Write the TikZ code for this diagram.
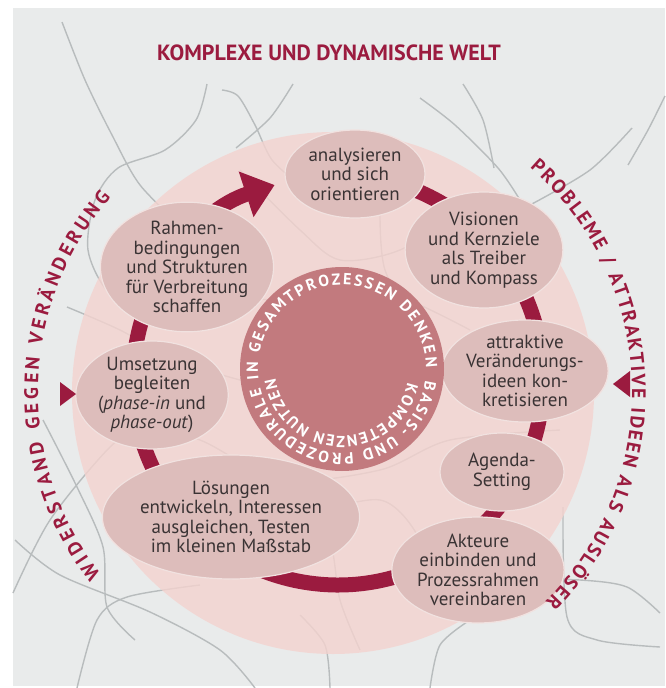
\documentclass[tikz,border=0pt]{standalone}
\usepackage{fontspec}
\setmainfont{PT Sans}
\usetikzlibrary{arrows.meta}
\usetikzlibrary{shapes.geometric}
\usetikzlibrary{decorations.text}
\definecolor{Weinrot}{HTML}{9B1B3F}
\definecolor{Grund}{HTML}{E9EBEB}
\definecolor{Kreis}{HTML}{F4D3CF}
\definecolor{Knoten}{HTML}{DDBDBB}
\definecolor{KnotenRand}{HTML}{F1E2E0}
\definecolor{Kern}{HTML}{C27A7E}
\definecolor{Faden}{HTML}{B8BCBD}
\definecolor{Schrift}{HTML}{3A3334}
\pgfdeclarelayer{bglayer}
\pgfdeclarelayer{edgelayer}
\pgfdeclarelayer{nodelayer}
\pgfsetlayers{bglayer,edgelayer,nodelayer,main}
\tikzstyle{none}=[inner sep=0pt]
\tikzstyle{stage}=[ellipse,fill=Knoten,draw=KnotenRand,line width=1.2pt,inner sep=0pt,align=center,text=Schrift,font=\fontsize{19}{19.5}\selectfont]
\tikzstyle{kern}=[circle,fill=Kern,minimum size=204pt,inner sep=0pt]
\tikzstyle{faden}=[-,draw=Faden,line width=1.4pt]
\tikzstyle{ring}=[-{Triangle[width=46pt,length=30pt]},draw=Weinrot,line width=15pt]
\tikzstyle{bogen}=[decorate]
\tikzstyle{marke}=[fill=Weinrot]

\begin{document}
\begin{tikzpicture}[x=1pt,y=1pt]
	\useasboundingbox (0,0) rectangle (665,-688);
	\begin{pgfonlayer}{bglayer}
		\fill [white] (0,0) rectangle (665,-688);
		\fill [Grund] (13,-8) rectangle (665,-686);
		% Faeden im Hintergrund
		\draw [style=faden] plot [smooth] coordinates {(62,-22) (85,-80) (112,-135) (140,-185) (185,-230)};
		\draw [style=faden] plot [smooth] coordinates {(207,-84) (196,-120) (165,-150) (118,-168) (95,-200) (88,-250) (108,-292) (150,-320) (230,-300) (300,-300) (380,-290) (470,-330)};
		\draw [style=faden] plot [smooth] coordinates {(222,-90) (238,-96) (255,-125) (272,-160) (300,-185)};
		\draw [style=faden] plot [smooth] coordinates {(293,-84) (270,-118) (236,-148)};
		\draw [style=faden] plot [smooth] coordinates {(298,-152) (318,-150) (340,-166)};
		\draw [style=faden] plot [smooth] coordinates {(420,-98) (455,-125) (498,-168) (520,-200)};
		\draw [style=faden] plot [smooth] coordinates {(463,-84) (483,-120) (494,-168)};
		\draw [style=faden] plot [smooth] coordinates {(665,-96) (648,-130) (628,-165)};
		\draw [style=faden] plot [smooth] coordinates {(632,-128) (590,-170) (530,-205)};
		\draw [style=faden] plot [smooth] coordinates {(67,-307) (120,-330) (175,-360) (240,-380)};
		\draw [style=faden] plot [smooth] coordinates {(13,-593) (50,-520) (110,-447) (150,-420)};
		\draw [style=faden] plot [smooth] coordinates {(43,-420) (77,-487) (103,-547) (107,-607) (135,-640)};
		\draw [style=faden] plot [smooth] coordinates {(77,-688) (97,-620) (127,-597) (200,-585)};
		\draw [style=faden] plot [smooth] coordinates {(15,-540) (60,-575) (150,-612) (220,-650) (255,-688)};
		\draw [style=faden] plot [smooth] coordinates {(330,-688) (325,-645) (300,-615)};
		\draw [style=faden] plot [smooth] coordinates {(430,-688) (440,-645) (470,-620)};
		\draw [style=faden] plot [smooth] coordinates {(563,-507) (567,-617) (597,-640) (660,-647)};
		\draw [style=faden] plot [smooth] coordinates {(520,-580) (580,-580) (627,-587) (660,-613)};
		\draw [style=faden] plot [smooth] coordinates {(240,-170) (300,-230) (340,-260) (400,-250) (460,-210)};
		\draw [style=faden] plot [smooth] coordinates {(120,-420) (200,-440) (280,-480) (380,-470) (450,-440) (560,-430)};
		\draw [style=faden] plot [smooth] coordinates {(250,-560) (300,-520) (380,-500) (420,-540) (430,-600)};
		\draw [style=faden] plot [smooth] coordinates {(380,-210) (385,-270) (420,-330) (460,-380)};
		\draw [style=faden] plot [smooth] coordinates {(300,-470) (330,-540) (340,-600) (360,-650)};
		% grosser Kreis
		\fill [Kreis, fill opacity=0.8] (333,-393) circle [radius=261];
	\end{pgfonlayer}
	\begin{pgfonlayer}{nodelayer}
		\node [style=stage, minimum width=140pt, minimum height=88pt] (0) at (355,-174) {analysieren\\und sich\\orientieren};
		\node [style=stage, minimum width=146pt, minimum height=116pt] (1) at (484,-250) {Visionen\\und Kernziele\\als Treiber\\und Kompass};
		\node [style=stage, minimum width=150pt, minimum height=100pt] (2) at (525,-371) {attraktive\\Veränderungs-\\ideen kon-\\kretisieren};
		\node [style=stage, minimum width=124pt, minimum height=78pt] (3) at (502,-472) {Agenda-\\Setting};
		\node [style=stage, minimum width=148pt, minimum height=106pt] (4) at (478,-570) {Akteure\\einbinden und\\Prozessrahmen\\vereinbaren};
		\node [style=stage, minimum width=228pt, minimum height=124pt] (5) at (231,-517) {Lösungen\\entwickeln, Interessen\\ausgleichen, Testen\\im kleinen Maßstab};
		\node [style=stage, minimum width=150pt, minimum height=108pt] (6) at (152,-395) {Umsetzung\\begleiten\\(\textit{phase-in} und\\\textit{phase-out})};
		\node [style=stage, minimum width=166pt, minimum height=122pt] (7) at (187,-267) {Rahmen-\\bedingungen\\und Strukturen\\für Verbreitung\\schaffen};
		\node [style=kern] (8) at (342,-369) {};
		\coordinate (9) at (338,-380);
	\end{pgfonlayer}
	\begin{pgfonlayer}{edgelayer}
		\draw [style=ring] (9) ++(85:205) arc [start angle=85, end angle=-252, radius=205];
	\end{pgfonlayer}
	% Schrift im Kern
	\begin{scope}[shift={(342,-369)}, every path/.style={decorate}]
		\path [decoration={text along path, text align={fit to path}, text={|\color{white}\bfseries\fontsize{16}{16}\selectfont|IN GESAMTPROZESSEN DENKEN}}] (187:84) arc [start angle=187, end angle=1, radius=84];
		\path [decoration={text along path, text align={fit to path}, text={|\color{white}\bfseries\fontsize{16}{16}\selectfont|BASIS- UND PROZEDURALE}}] (-8:84) arc [start angle=-8, end angle=-167, radius=84];
		\path [decoration={text along path, text align={fit to path}, text={|\color{white}\bfseries\fontsize{16}{16}\selectfont|KOMPETENZEN NUTZEN}}] (-12:67) arc [start angle=-12, end angle=-172, radius=67];
	\end{scope}
	% Schrift aussen
	\node [text=Weinrot, font=\bfseries\fontsize{22}{22}\selectfont] (10) at (329,-53) {KOMPLEXE UND DYNAMISCHE WELT};
	\begin{scope}[shift={(335,-392)}, every path/.style={decorate}]
		\path [decoration={text along path, text align={fit to path}, text={|\color{Weinrot}\bfseries\fontsize{19.5}{19.5}\selectfont|PROBLEME / ATTRAKTIVE IDEEN ALS AUSLÖSER}}] (49:297) arc [start angle=49, end angle=-45, radius=297];
		\path [decoration={text along path, text align={fit to path}, text={|\color{Weinrot}\bfseries\fontsize{19.5}{19.5}\selectfont|WIDERSTAND GEGEN VERÄNDERUNG}}] (218:297) arc [start angle=218, end angle=139, radius=297];
	\end{scope}
	\fill [style=marke] (60,-382) -- (76,-394) -- (60,-406) -- cycle;
	\fill [style=marke] (630,-371) -- (613,-384) -- (630,-397) -- cycle;
\end{tikzpicture}
\end{document}
